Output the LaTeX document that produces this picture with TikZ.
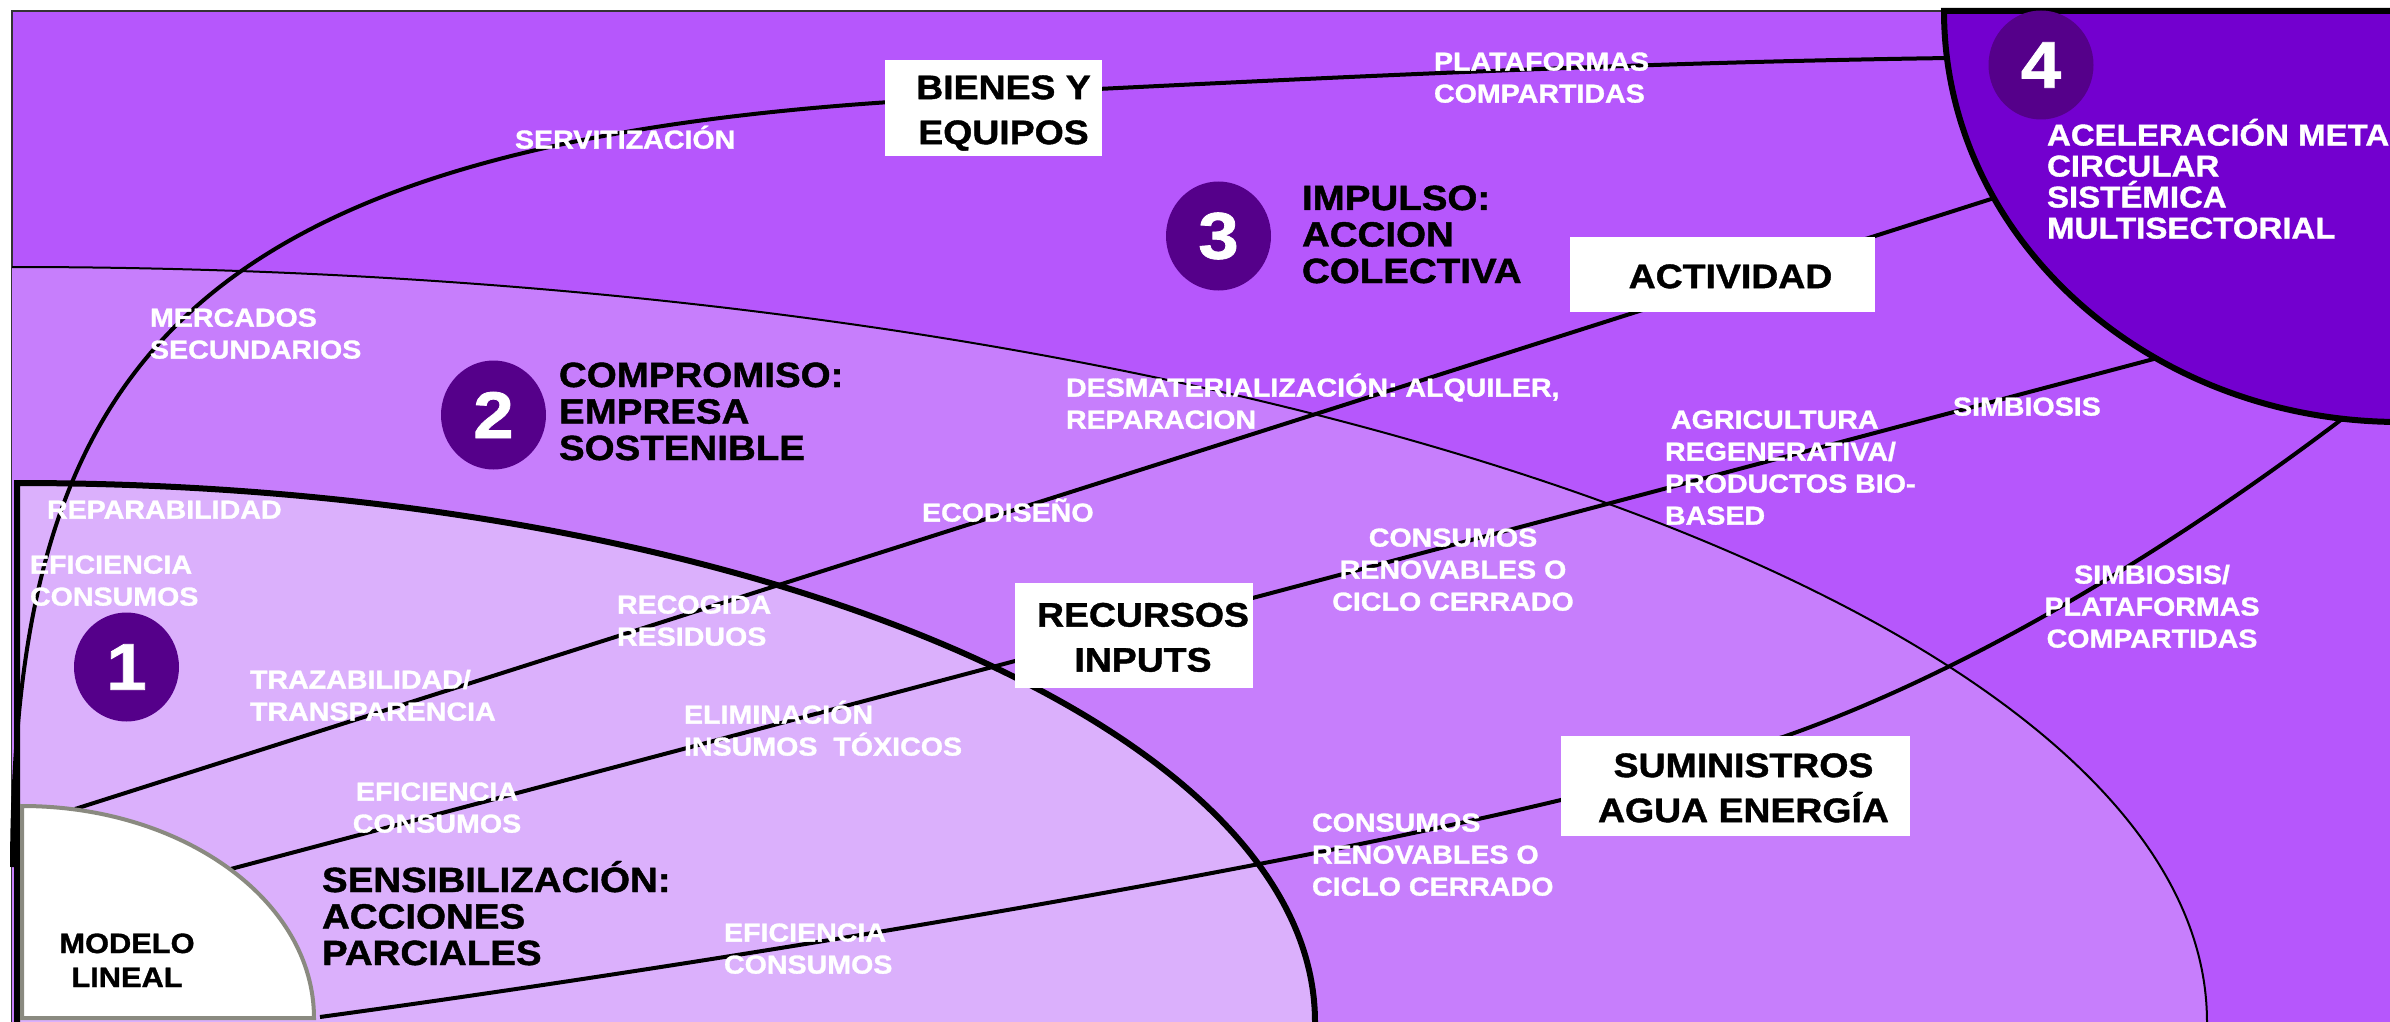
\documentclass[tikz,border=0pt]{standalone}
\usepackage{fontspec}
\setmainfont{Liberation Sans}[FakeStretch=1.1, BoldFeatures={FakeBold=1.2}]
\usetikzlibrary{shapes.geometric,calc}
\definecolor{rthree}{HTML}{B657FC}
\definecolor{rtwo}{HTML}{C77EFC}
\definecolor{rone}{HTML}{DBB0FC}
\definecolor{rfour}{HTML}{7300CF}
\definecolor{numc}{HTML}{55008A}
\definecolor{greyb}{HTML}{8A8A80}
\newcommand\TopS{\rule{0pt}{1em}}
\newcommand\BotS{\rule[-.2em]{0pt}{0pt}}
\tikzset{
  base/.style={inner sep=0pt, outer sep=0pt},
  wl/.style={base, text=white, font=\bfseries\fontsize{13pt}{16pt}\selectfont, align=left, anchor=north west},
  wlc/.style={wl, align=center, anchor=north},
  hd/.style={base, text=black, font=\bfseries\fontsize{17.5pt}{18.25pt}\selectfont, align=left, anchor=north west},
  hdw/.style={base, text=white, font=\bfseries\fontsize{15pt}{15.5pt}\selectfont, align=left, anchor=north west},
  bx/.style={base, fill=white, align=center, text=black, font=\bfseries\fontsize{17pt}{22.5pt}\selectfont},
  num/.style={base, ellipse, fill=numc, minimum width=52.5pt, minimum height=54.5pt, text=white, font=\bfseries\fontsize{33pt}{33pt}\selectfont},
  ln/.style={draw=black, line width=2pt},
}
\begin{document}
\begin{tikzpicture}[x=0.5pt,y=-0.5pt]
\useasboundingbox (0,0) rectangle (2390,1022);
\clip (0,0) rectangle (2390,1022);
\fill[white] (0,0) rectangle (2390,1022);
% outer frame (stage 3)
\path[fill=rthree, draw=black!80, line width=0.75pt] (12,11) rectangle (2430,1040);
% stage 2 region
\fill[rtwo] (12,1040) -- (12,267) arc[start angle=-90,end angle=0,x radius=2195,y radius=755] -- (2207,1040) -- cycle;
\draw[line width=1pt] (12,267) arc[start angle=-90,end angle=0,x radius=2195,y radius=755];
% stage 1 region
\fill[rone] (17,1040) -- (17,483) arc[start angle=-90,end angle=0,x radius=1298,y radius=539] -- (1315,1040) -- cycle;
\draw[line width=3pt] (17,1040) -- (17,483) arc[start angle=-90,end angle=0,x radius=1298,y radius=539] -- (1315,1040);
% connector end points
\coordinate (l1s) at (12,867);
\coordinate (l1a) at (890,102);
\coordinate (l1b) at (1098,89);
\coordinate (l1e) at (1950,58);
\coordinate (l2s) at (75,809);
\coordinate (l2e) at (2010,193);
\coordinate (l3s) at (227,870);
\coordinate (l3e) at (2165,356);
\coordinate (l4s) at (320,1017);
\coordinate (l4a) at (1565,799);
\coordinate (l4b) at (1783,737);
\coordinate (l4e) at (2350,413);
% connectors
\draw[ln] (l1s) .. controls (14,380) and (170,150) .. (l1a) -- (l1b) .. controls (1380,75) and (1660,62) .. (l1e);
\draw[ln] (l2s) -- (l2e);
\draw[ln] (l3s) -- (l3e);
\draw[ln] (l4s) .. controls (700,965) and (1250,875) .. (l4a) -- (l4b) .. controls (1983,667) and (2190,535) .. (l4e);
% linear model
\path[fill=white, draw=greyb, line width=2pt] (22,1018) -- (22,806) arc[start angle=-90,end angle=0,x radius=292,y radius=212] -- cycle;
\node[base, text=black, font=\bfseries\fontsize{14pt}{17pt}\selectfont, align=center, anchor=north] (modelo) at (127,925) {\TopS MODELO\\LINEAL};
% stage 4 region
\path[fill=rfour, draw=black, line width=3pt] (1944,11) arc[start angle=180,end angle=90,x radius=456,y radius=411] -- (2440,422) -- (2440,11) -- cycle;
% numbers
\node[num] (n1) at (126.5,667) {1};
\node[num] (n2) at (493.5,415) {2};
\node[num] (n3) at (1218.5,236) {3};
\node[num] (n4) at (2041,65) {4};
% boxes
\node[bx, minimum width=108.5pt, minimum height=48pt] (bienes) at (993.5,108) {\hspace*{10pt}\TopS BIENES Y\\\hspace*{10pt}EQUIPOS\BotS};
\node[bx, minimum width=152.5pt, minimum height=37.5pt] (actividad) at (1722.5,274.5) {\hspace*{8pt}\TopS ACTIVIDAD\BotS};
\node[bx, minimum width=119pt, minimum height=52.5pt] (recursos) at (1134,635.5) {\hspace*{9pt}\TopS RECURSOS\\\hspace*{9pt}INPUTS\BotS};
\node[bx, minimum width=174.5pt, minimum height=50pt] (suministros) at (1735.5,786) {\hspace*{8pt}\TopS SUMINISTROS\\\hspace*{8pt}AGUA ENERGÍA\BotS};
% headings
\node[hd] (h1) at (322,857) {\TopS SENSIBILIZACIÓN:\\ACCIONES\\PARCIALES};
\node[hd] (h2) at (559,352) {\TopS COMPROMISO:\\EMPRESA\\SOSTENIBLE};
\node[hd] (h3) at (1302,175) {\TopS IMPULSO:\\ACCION\\COLECTIVA};
\node[hdw] (h4) at (2047,115.5) {\TopS ACELERACIÓN META\\CIRCULAR\\SISTÉMICA\\MULTISECTORIAL};
% white labels
\node[wl] (t1) at (515,122.6) {\TopS SERVITIZACIÓN};
\node[wl] (t2) at (150,300.6) {\TopS MERCADOS\\SECUNDARIOS};
\node[wl] (t3) at (47,492.6) {\TopS REPARABILIDAD};
\node[wl] (t4) at (30,547.6) {\TopS EFICIENCIA\\CONSUMOS};
\node[wl] (t5) at (250,662.6) {\TopS TRAZABILIDAD/\\TRANSPARENCIA};
\node[wl] (t6) at (617,587.6) {\TopS RECOGIDA\\RESIDUOS};
\node[wlc] (t7) at (437,774.6) {\TopS EFICIENCIA\\CONSUMOS};
\node[wl] (t8) at (684,697.6) {\TopS ELIMINACIÓN\\INSUMOS\ \ TÓXICOS};
\node[wl] (t9) at (724,915.6) {\TopS EFICIENCIA\\CONSUMOS};
\node[wl] (t10) at (922,495.6) {\TopS ECODISEÑO};
\node[wl] (t11) at (1066,370.6) {\TopS DESMATERIALIZACIÓN: ALQUILER,\\REPARACION};
\node[wlc] (t12) at (1453,520.6) {\TopS CONSUMOS\\RENOVABLES O\\CICLO CERRADO};
\node[wl] (t13) at (1312,805.6) {\TopS CONSUMOS\\RENOVABLES O\\CICLO CERRADO};
\node[wl] (t14) at (1665,402.6) {\hspace*{3pt}\TopS AGRICULTURA\\REGENERATIVA/\\PRODUCTOS BIO-\\BASED};
\node[wl] (t15) at (1953,389.6) {\TopS SIMBIOSIS};
\node[wlc] (t16) at (2152,557.6) {\TopS SIMBIOSIS/\\PLATAFORMAS\\COMPARTIDAS};
\node[wl] (t17) at (1434,44.6) {\TopS PLATAFORMAS\\COMPARTIDAS};
\end{tikzpicture}
\end{document}
